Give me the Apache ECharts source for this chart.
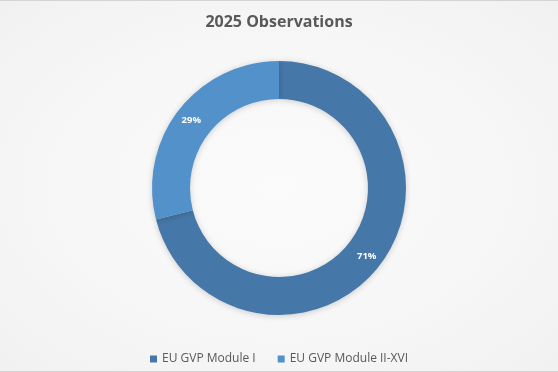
<!DOCTYPE html>
<html>
<head>
<meta charset="utf-8">
<script src="https://cdn.jsdelivr.net/npm/echarts@6/dist/echarts.min.js"></script>
<style>
html,body{margin:0;padding:0;background:#fff;}
#c{width:558px;height:372px;box-sizing:border-box;border-top:1px solid #d4d4d4;border-bottom:1px solid #d4d4d4;
background:radial-gradient(ellipse at center,#fbfbfb 0%,#f6f6f6 60%,#f1f1f1 100%);}
</style>
</head>
<body>
<div id="c"></div>
<script>
const titleText = '2025 Observations';
const categories = ['EU GVP Module I', 'EU GVP Module II-XVI'];
const values = [71, 29];
const colors = ['#4577A8', '#5391CA'];

const chart = echarts.init(document.getElementById('c'), null, {renderer: 'canvas'});
chart.setOption({
  backgroundColor: 'transparent',
  animation: false,
  title: {
    text: titleText,
    left: 'center',
    top: 8,
    textStyle: {fontFamily: 'Open Sans', fontSize: 16, fontWeight: 'bold', color: '#595959'}
  },
  legend: {
    data: categories,
    top: 347,
    left: 'center',
    itemWidth: 7,
    itemHeight: 7,
    itemGap: 22,
    icon: 'rect',
    textStyle: {fontFamily: 'Open Sans', fontSize: 12, color: '#595959'}
  },
  series: [{
    type: 'pie',
    radius: [89, 127],
    center: [279, 187],
    startAngle: 90,
    clockwise: true,
    avoidLabelOverlap: false,
    data: categories.map((c, i) => ({name: c, value: values[i], itemStyle: {color: colors[i]}})),
    itemStyle: {shadowBlur: 6, shadowColor: 'rgba(0,0,0,0.18)', shadowOffsetY: 1},
    label: {
      show: true,
      position: 'inside',
      formatter: p => p.value + '%',
      fontFamily: 'Open Sans',
      fontSize: 9.5,
      fontWeight: 'bold',
      color: '#ffffff'
    },
    labelLine: {show: false},
    emphasis: {disabled: true}
  }]
});
</script>
</body>
</html>
